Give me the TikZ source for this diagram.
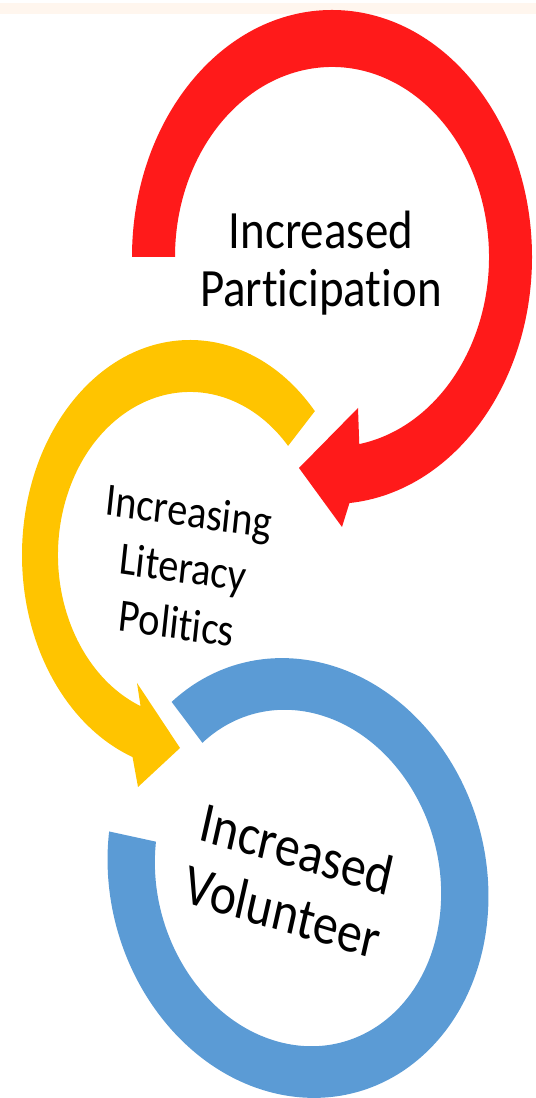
\documentclass[tikz,border=0pt]{standalone}
\usepackage{fontspec}
\setmainfont[Ligatures={NoCommon}]{Carlito}
\usepackage{tikz}
\usetikzlibrary{calc}
\usetikzlibrary{positioning}
\definecolor{arcred}{HTML}{FF1A1A}
\definecolor{arcyellow}{HTML}{FFC400}
\definecolor{arcblue}{HTML}{5B9BD5}
\definecolor{topband}{HTML}{FFF6EE}

\begin{document}
\begin{tikzpicture}[x=0.02cm, y=0.02cm]
	\useasboundingbox (0,0) rectangle (536,1098);
	\fill[topband] (0,1084) rectangle (536,1095);

	\coordinate (redc) at (332,841);
	\coordinate (yelc) at (190,543);
	\coordinate (bluc) at (298,220);

	\fill[arcred] ($(redc)+(180:200 and 247)$) arc[start angle=180, end angle=-85, x radius=200, y radius=247]
		-- (342,571) -- (299,630) -- (358,690)
		-- ($(redc)+(-80:157 and 190)$) arc[start angle=-80, end angle=180, x radius=157, y radius=190] -- cycle;

	\fill[arcyellow] ($(yelc)+(42:168 and 215)$) arc[start angle=42, end angle=250, x radius=168, y radius=215]
		-- (138,311) -- (180,350) -- (137,415)
		-- ($(yelc)+(248:132 and 163)$) arc[start angle=248, end angle=42, x radius=132, y radius=163] -- cycle;

	\begin{scope}[shift={(bluc)}, rotate=15]
		\fill[arcblue] (114:188 and 222) arc[start angle=114, end angle=-205, x radius=188, y radius=222]
			-- (-205:141 and 170) arc[start angle=-205, end angle=114, x radius=141, y radius=170] -- cycle;
	\end{scope}

	\begin{scope}[every node/.style={align=center, inner sep=0pt, text=black, yscale=1.15}]
		\node[font=\fontsize{26.7}{29}\selectfont] (part) at (321,835) {Increased\\Participation};
		\node[font=\fontsize{23}{28}\selectfont, rotate=-7] (lit) at (183,531) {Increasing\\Literacy\\Politics};
		\node[font=\fontsize{28.5}{32}\selectfont, rotate=-14.6] (vol) at (290,218) {Increased\\Volunteer};
	\end{scope}
\end{tikzpicture}
\end{document}
